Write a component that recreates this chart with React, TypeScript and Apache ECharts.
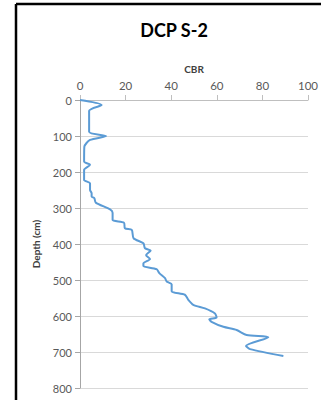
import React, { useEffect, useRef } from "react";
import * as echarts from "echarts";

const depthCm = [0, 14, 30, 88, 100, 111, 130, 171, 180, 194, 222, 231, 250, 259, 268, 273, 285, 304, 313, 333, 341, 356, 361, 384, 398, 412, 418, 431, 442, 454, 461, 470, 481, 495, 504, 512, 531, 541, 555, 569, 579, 593, 604, 609, 616, 630, 639, 653, 659, 683, 692, 711];
const cbrValues = [0, 9.5, 4, 4, 11.4, 4.4, 1.9, 1.8, 4.4, 1.8, 1.8, 4.4, 4.4, 5.1, 5.1, 6.3, 6.9, 13.2, 14.3, 14.3, 19.3, 19.7, 22.7, 23.5, 27.8, 28.5, 31, 29, 30.7, 27.8, 27.8, 33.6, 34.8, 37.3, 38, 40.2, 40.2, 46, 47.5, 49.7, 54.8, 59.2, 59.9, 56.7, 57.7, 62.9, 68.7, 73.1, 82.6, 72.8, 74.6, 89.2];
const titleText = "DCP S-2";
const xAxisName = "CBR";
const yAxisName = "Depth (cm)";

export default function App() {
  const ref = useRef<HTMLDivElement>(null);
  useEffect(() => {
    if (!ref.current) return;
    const chart = echarts.init(ref.current, null, { renderer: "svg" });
    const data = cbrValues.map((v, i) => [v, depthCm[i]]);
    chart.setOption({
      animation: false,
      backgroundColor: "#ffffff",
      grid: { left: 80, right: 13, top: 100, bottom: 12 },
      graphic: [
        { type: "line", shape: { x1: 16, y1: 4, x2: 321, y2: 4 }, style: { stroke: "#000", lineWidth: 2.5 } },
        { type: "line", shape: { x1: 16, y1: 4, x2: 16, y2: 400 }, style: { stroke: "#000", lineWidth: 2.5 } },
        {
          type: "text",
          x: 174,
          y: 30,
          style: {
            text: titleText,
            textAlign: "center",
            textVerticalAlign: "middle",
            font: "bold 18px Lato",
            fill: "#000",
          },
        },
      ],
      xAxis: {
        type: "value",
        position: "top",
        min: 0,
        max: 100,
        interval: 20,
        name: xAxisName,
        nameLocation: "middle",
        nameGap: 23,
        nameTextStyle: { fontFamily: "Lato", fontWeight: "bold", fontSize: 10, color: "#404040" },
        axisLine: { show: true, lineStyle: { color: "#BFBFBF", width: 1 } },
        axisTick: { show: true, length: 5, lineStyle: { color: "#BFBFBF" } },
        axisLabel: { fontFamily: "Lato", fontSize: 11.5, color: "#595959", margin: 9 },
        splitLine: { show: false },
      },
      yAxis: {
        type: "value",
        inverse: true,
        min: 0,
        max: 800,
        interval: 100,
        name: yAxisName,
        nameLocation: "middle",
        nameGap: 39,
        nameRotate: 90,
        nameTextStyle: { fontFamily: "Lato", fontWeight: "bold", fontSize: 10, color: "#404040" },
        axisLine: { show: true, lineStyle: { color: "#A6A6A6", width: 1 } },
        axisTick: { show: true, length: 5, lineStyle: { color: "#A6A6A6" } },
        axisLabel: { fontFamily: "Lato", fontSize: 11, color: "#595959", margin: 8 },
        splitLine: { show: true, lineStyle: { color: "#D9D9D9", width: 1 } },
      },
      series: [
        {
          type: "line",
          data,
          smooth: 0.25,
          showSymbol: false,
          lineStyle: { color: "#5B9BD5", width: 2 },
        },
      ],
    });
    return () => chart.dispose();
  }, []);
  return (
    <div
      ref={ref}
      style={{ position: "fixed", left: 0, top: 0, width: 321, height: 400 }}
    />
  );
}
